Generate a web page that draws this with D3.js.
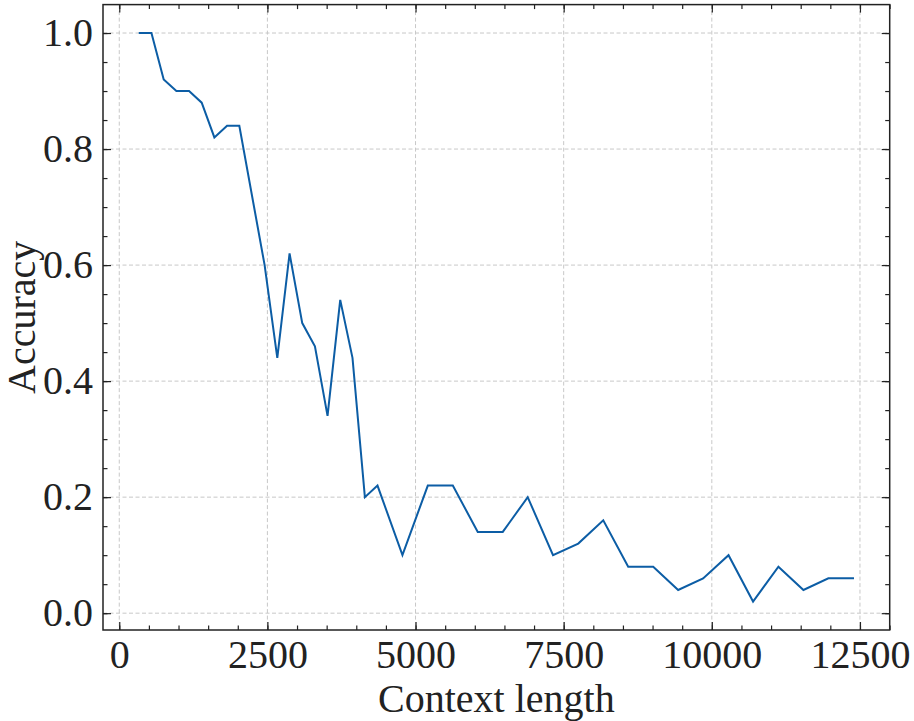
<!DOCTYPE html>
<head>
  <meta charset="utf-8">
  <script src="https://d3js.org/d3.v7.min.js"></script>
  <style>
    body { margin:0; background:#fff; }
    text { font-family: "Liberation Serif", "DejaVu Serif", serif; fill:#222; }
  </style>
</head>
<body>
<div id=figure></div>
<script>
  // context length (tokens) vs accuracy
  var contextLen = [329, 543, 750, 964, 1178, 1391, 1605, 1819, 2026, 2453, 2667, 2874, 3088,
    3302, 3515, 3729, 3936, 4145, 4358, 4779, 5207, 5629, 6050, 6472, 6893, 7320, 7746,
    8168, 8589, 9011, 9432, 9853, 10282, 10696, 11124, 11546, 11967, 12399];
  var accuracy = [1.00, 1.00, 0.92, 0.90, 0.90, 0.88, 0.82, 0.84, 0.84, 0.60, 0.44, 0.62, 0.50,
    0.46, 0.34, 0.54, 0.44, 0.20, 0.22, 0.10, 0.22, 0.22, 0.14, 0.14, 0.20, 0.10, 0.12,
    0.16, 0.08, 0.08, 0.04, 0.06, 0.10, 0.02, 0.08, 0.04, 0.06, 0.06];
  var xTicks = [0, 2500, 5000, 7500, 10000, 12500];
  var yTicks = [0.0, 0.2, 0.4, 0.6, 0.8, 1.0];

  var data = contextLen.map(function(d, i) { return {x: d, y: accuracy[i]}; });

  var W = 914, H = 721;
  var margin = {top: 4.6, right: 24.3, bottom: 91, left: 103};
  var width = W - margin.left - margin.right;
  var height = H - margin.top - margin.bottom;

  var svg = d3.select("#figure").append("svg")
    .attr("width", W)
    .attr("height", H);
  var g = svg.append("g")
    .attr("transform", "translate(" + margin.left + "," + margin.top + ")");

  var x = d3.scaleLinear().domain([-274.5, 13002]).range([0, width]);
  var y = d3.scaleLinear().domain([-0.029, 1.049]).range([height, 0]);

  var xMinor = d3.range(0, 13001, 500);
  var yMinor = d3.range(0, 21).map(function(i) { return i * 0.05; });

  // grid
  g.append("g").selectAll("line").data(xTicks).enter().append("line")
    .attr("x1", function(d) { return x(d); }).attr("x2", function(d) { return x(d); })
    .attr("y1", 0).attr("y2", height)
    .attr("stroke", "#c8c8c8").attr("stroke-width", 1).attr("stroke-dasharray", "4,2.5");
  g.append("g").selectAll("line").data(yTicks).enter().append("line")
    .attr("y1", function(d) { return y(d); }).attr("y2", function(d) { return y(d); })
    .attr("x1", 0).attr("x2", width)
    .attr("stroke", "#c8c8c8").attr("stroke-width", 1).attr("stroke-dasharray", "4,2.5");

  // line
  var line = d3.line()
    .x(function(d) { return x(d.x); })
    .y(function(d) { return y(d.y); });
  g.append("path")
    .datum(data)
    .attr("d", line)
    .attr("fill", "none")
    .attr("stroke", "#0C5DA5")
    .attr("stroke-width", 2)
    .attr("stroke-linejoin", "miter");

  // axes, ticks pointing inward on all four sides
  function styleAxis(sel) {
    sel.select(".domain").remove();
    sel.selectAll(".tick line").attr("stroke", "#222").attr("stroke-width", 1.2);
    sel.selectAll("text").attr("font-size", 40).attr("fill", "#222")
      .attr("font-family", "Liberation Serif, DejaVu Serif, serif");
  }
  var fmtY = d3.format(".1f");

  g.append("g").attr("transform", "translate(0," + height + ")")
    .call(d3.axisBottom(x).tickValues(xMinor).tickSize(-4.5).tickFormat(""))
    .call(styleAxis);
  g.append("g").attr("transform", "translate(0," + height + ")")
    .call(d3.axisBottom(x).tickValues(xTicks).tickSize(-8).tickPadding(10).tickFormat(d3.format("d")))
    .call(styleAxis);
  g.append("g")
    .call(d3.axisTop(x).tickValues(xMinor).tickSize(-4.5).tickFormat(""))
    .call(styleAxis);
  g.append("g")
    .call(d3.axisTop(x).tickValues(xTicks).tickSize(-8).tickFormat(""))
    .call(styleAxis);

  g.append("g")
    .call(d3.axisLeft(y).tickValues(yMinor).tickSize(-4.5).tickFormat(""))
    .call(styleAxis);
  g.append("g")
    .call(d3.axisLeft(y).tickValues(yTicks).tickSize(-8).tickPadding(10).tickFormat(fmtY))
    .call(styleAxis);
  g.append("g").attr("transform", "translate(" + width + ",0)")
    .call(d3.axisRight(y).tickValues(yMinor).tickSize(-4.5).tickFormat(""))
    .call(styleAxis);
  g.append("g").attr("transform", "translate(" + width + ",0)")
    .call(d3.axisRight(y).tickValues(yTicks).tickSize(-8).tickFormat(""))
    .call(styleAxis);

  // frame
  g.append("rect")
    .attr("width", width).attr("height", height)
    .attr("fill", "none").attr("stroke", "#222").attr("stroke-width", 1.5);

  // labels
  g.append("text")
    .attr("x", width / 2)
    .attr("y", height + 82)
    .attr("text-anchor", "middle")
    .attr("font-size", 40)
    .text("Context length");

  g.append("text")
    .attr("transform", "translate(" + (-68) + "," + (height / 2) + ") rotate(-90)")
    .attr("text-anchor", "middle")
    .attr("font-size", 40)
    .text("Accuracy");
</script>
</body>
